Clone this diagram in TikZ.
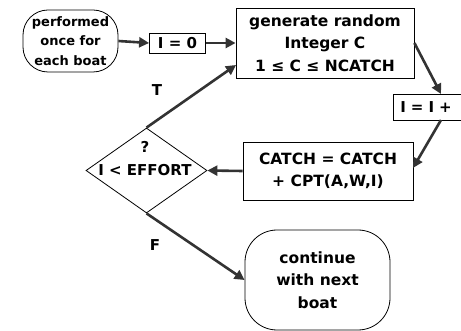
\documentclass[tikz,border=0pt]{standalone}
\usepackage{fontspec}
\setmainfont{DejaVu Sans}
\usetikzlibrary{shapes.geometric,arrows.meta,calc}
\begin{document}
\begin{tikzpicture}[x=1pt,y=-1pt,
  box/.style={draw, line width=0.8pt, inner sep=0pt, align=center,
    font=\bfseries\fontsize{15.5}{22.5}\selectfont},
  lbl/.style={font=\bfseries\fontsize{15}{18}\selectfont, inner sep=1pt},
  flow/.style={line width=2.6pt, draw=black!80,
    -{Triangle[length=10pt,width=10pt]}}]
\useasboundingbox (0,0) rectangle (461,331);
% nodes
\node[box, rounded corners=25pt, minimum width=95pt, minimum height=62pt,
  font=\bfseries\fontsize{13}{19.5}\selectfont] (start) at (70.5,41)
  {performed\\once for\\each boat};
\node[box, minimum width=56pt, minimum height=20pt,
  font=\bfseries\fontsize{15}{18}\selectfont] (i0) at (177.5,43) {I = 0};
\node[box, minimum width=178pt, minimum height=70pt] (gen) at (325,43)
  {generate random\\Integer C\\1 ≤ C ≤ NCATCH};
\node[box, anchor=north west, minimum width=86pt, minimum height=26pt,
  inner xsep=7pt, text width=72pt, align=left,
  font=\bfseries\fontsize{15}{18}\selectfont] (inc) at (393,94) {I = I +};
\node[box, minimum width=170pt, minimum height=58pt] (catch) at (328,171)
  {CATCH = CATCH\\+ CPT(A,W,I)};
\node[diamond, draw, line width=0.8pt, minimum width=121pt,
  minimum height=85pt, inner sep=0pt] (dec) at (146.5,170.5) {};
\node[lbl, align=center, font=\bfseries\fontsize{15}{23}\selectfont]
  (dect) at (145,159) {?\\I < EFFORT};
\node[box, rounded corners=32pt, minimum width=145pt, minimum height=100pt]
  (cont) at (317.5,280) {continue\\with next\\boat};
\node[lbl] (tl) at (157,90) {T};
\node[lbl] (fl) at (155,245) {F};
% connector end points
\coordinate (genT) at (236,65);
\coordinate (incin) at (441,94);
\coordinate (incout) at (441,120);
\coordinate (catchin) at (413,168);
% connectors
\draw[flow] (start.east) -- (i0.west);
\draw[flow] (i0.east) -- (gen.west);
\draw[flow] (gen.east) -- (incin);
\draw[flow] (incout) -- (catchin);
\draw[flow] (catch.west) -- (dec.east);
\draw[flow] (dec.north) -- (genT);
\draw[flow] (dec.south) -- (cont.west);
\end{tikzpicture}
\end{document}
